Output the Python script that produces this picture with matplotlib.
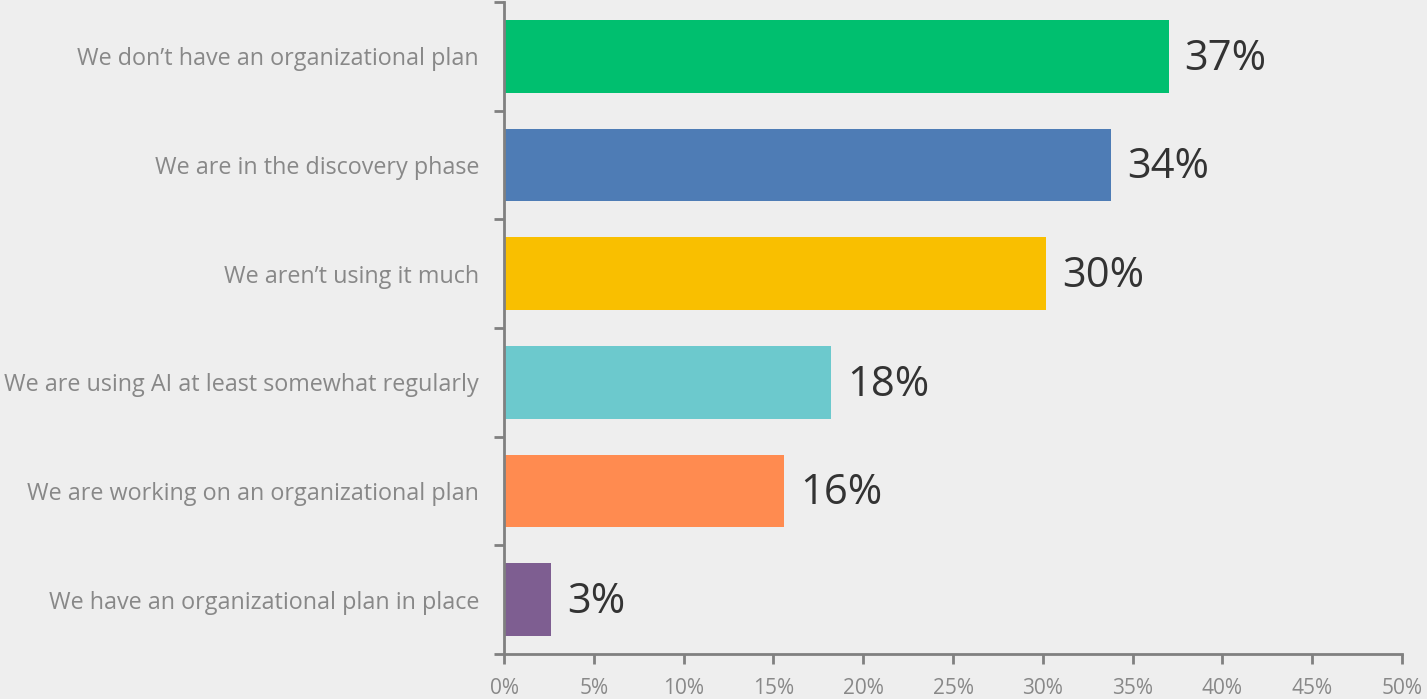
import matplotlib.pyplot as plt
import numpy as np

# Survey answers, top to bottom
categories = [
    "We don\u2019t have an organizational plan",
    "We are in the discovery phase",
    "We aren\u2019t using it much",
    "We are using AI at least somewhat regularly",
    "We are working on an organizational plan",
    "We have an organizational plan in place",
]
values = [37.0, 33.8, 30.2, 18.2, 15.6, 2.6]
value_labels = ["37%", "34%", "30%", "18%", "16%", "3%"]
colors = ["#00BF6F", "#4E7CB5", "#F9BF00", "#6CC9CD", "#FF8B50", "#7E5E91"]
x_ticks = [0, 5, 10, 15, 20, 25, 30, 35, 40, 45, 50]

bg = "#EEEEEE"
axis_color = "#808080"
plt.rcParams['font.family'] = ['Open Sans', 'DejaVu Sans']

fig = plt.figure(figsize=(14.27, 6.99), dpi=100, facecolor=bg)
ax = fig.add_axes([504 / 1427, 45 / 699, (1402 - 504) / 1427, 652 / 699])
ax.set_facecolor(bg)

y = np.arange(len(categories))
ax.barh(y, values, height=0.67, color=colors)
for yi, v, lab in zip(y, values, value_labels):
    ax.text(v + 0.9, yi + 0.02, lab, va='center', ha='left', fontsize=30, color='#333333')

ax.set_xlim(0, 50)
ax.set_ylim(len(categories) - 0.5, -0.5)
ax.set_xticks(x_ticks)
ax.set_xticklabels([f"{t}%" for t in x_ticks])
ax.set_yticks(y)
ax.set_yticklabels(categories)
ax.set_yticks(np.arange(len(categories) + 1) - 0.5, minor=True)

for s in ['top', 'right']:
    ax.spines[s].set_visible(False)
for s in ['left', 'bottom']:
    ax.spines[s].set_color(axis_color)
    ax.spines[s].set_linewidth(2)

ax.tick_params(axis='y', which='major', length=0, pad=18, labelsize=16.8, labelcolor='#888888')
ax.tick_params(axis='y', which='minor', length=7, width=2, color=axis_color)
ax.tick_params(axis='x', length=7, width=2, color=axis_color, labelsize=15, labelcolor='#888888', pad=10)

fig.savefig("out.png", dpi=100, facecolor=bg)
